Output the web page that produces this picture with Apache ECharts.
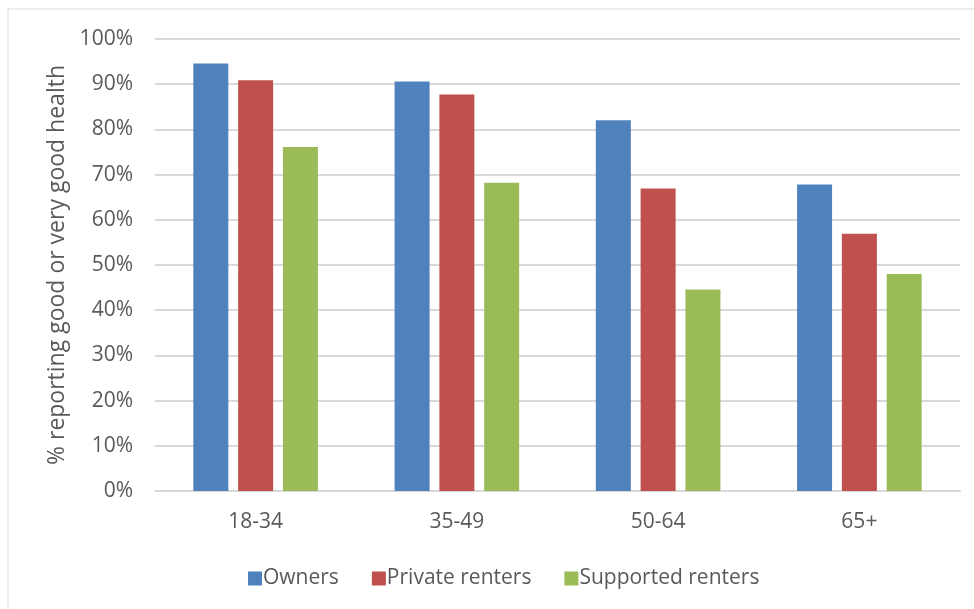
<!DOCTYPE html>
<html>
<head>
<meta charset="utf-8">
<script src="https://cdn.jsdelivr.net/npm/echarts@6/dist/echarts.min.js"></script>
<style>html,body{margin:0;padding:0;background:#fff}#c{width:974px;height:609px}</style>
</head>
<body>
<div id="c"></div>
<script>
const categories = ['18-34', '35-49', '50-64', '65+'];
const owners = [94.6, 90.6, 82.0, 67.8];
const privateRenters = [90.9, 87.7, 66.9, 56.9];
const supportedRenters = [76.1, 68.2, 44.6, 48.0];
const seriesNames = ['Owners', 'Private renters', 'Supported renters'];
const yAxisTitle = '% reporting good or very good health';

const FONT = '"Open Sans", sans-serif';
const TXT = '#595959';
const chart = echarts.init(document.getElementById('c'));
const mk = (name, data, color) => ({
  name, type: 'bar', data, barWidth: 35, barGap: '28%',
  itemStyle: { color }
});
chart.setOption({
  animation: false,
  graphic: [{ type: 'rect', shape: { x: 8, y: 9, width: 980, height: 620 },
    style: { fill: 'none', stroke: '#d9d9d9', lineWidth: 1 }, z: -1 }],
  grid: { left: 155, right: 14, top: 39, bottom: 118 },
  legend: {
    data: seriesNames, left: 243, top: 563, itemWidth: 14, itemHeight: 14, itemGap: 33,
    icon: 'rect',
    textStyle: { color: TXT, fontFamily: FONT, fontSize: 21, padding: [0, 0, 0, -4] }
  },
  xAxis: {
    type: 'category', data: categories,
    axisLine: { lineStyle: { color: '#d9d9d9', width: 2 } },
    axisTick: { show: false },
    axisLabel: { color: TXT, fontFamily: FONT, fontSize: 21, margin: 21 }
  },
  yAxis: {
    type: 'value', min: 0, max: 100, interval: 10,
    name: yAxisTitle, nameLocation: 'middle', nameGap: 84,
    nameTextStyle: { color: TXT, fontFamily: FONT, fontSize: 23 },
    axisLine: { show: false }, axisTick: { show: false },
    splitLine: { lineStyle: { color: '#d9d9d9', width: 2 } },
    axisLabel: { color: TXT, fontFamily: FONT, fontSize: 21, margin: 22, formatter: v => v + '%' }
  },
  series: [
    mk(seriesNames[0], owners, '#4F81BD'),
    mk(seriesNames[1], privateRenters, '#C0504D'),
    mk(seriesNames[2], supportedRenters, '#9BBB59')
  ]
});
</script>
</body>
</html>
